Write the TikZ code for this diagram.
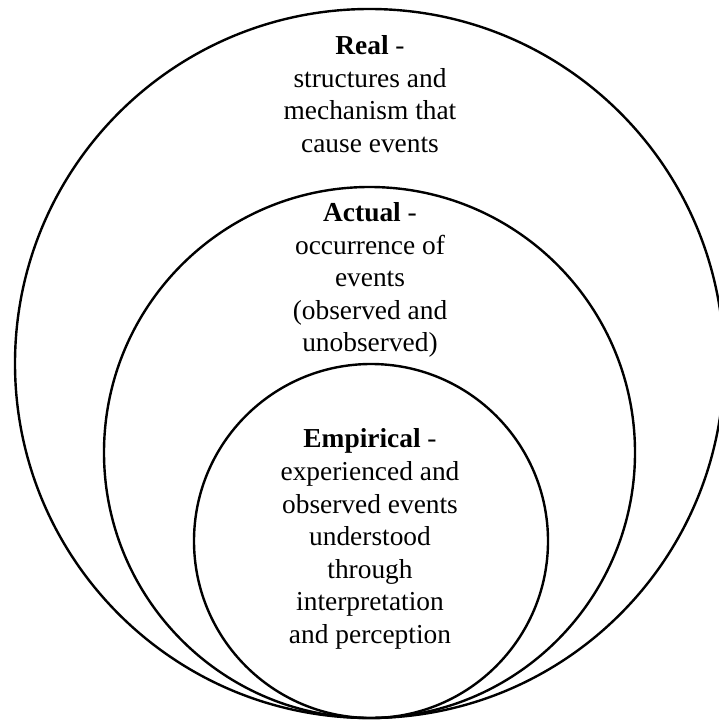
\documentclass[tikz,border=0pt]{standalone}
\usepackage{fontspec}
\setmainfont{Liberation Serif}

\begin{document}
\begin{tikzpicture}[x=1bp, y=-1bp, line width=2.4bp,
    every node/.style={align=center, inner sep=0pt, font=\fontsize{27.5}{32.7}\selectfont}]
     \useasboundingbox (0,0) rectangle (719,720);
     \clip (0,0) rectangle (719,720);

     \draw (369.5,363.5) circle [radius=354.5bp];
     \draw (369.5,452.5) circle [radius=265.5bp];
     \draw (371,541) circle [radius=177bp];

     \node (real) at (370,94) {\textbf{Real} -\\structures and\\mechanism that\\cause events};
     \node (actual) at (370,280) {\textbf{Actual} -\\occurrence of\\events\\(observed and\\unobserved)};
     \node (empirical) at (370,539) {\textbf{Empirical} -\\experienced and\\observed events\\understood\\through\\interpretation\\and perception};
    \end{tikzpicture}
\end{document}
